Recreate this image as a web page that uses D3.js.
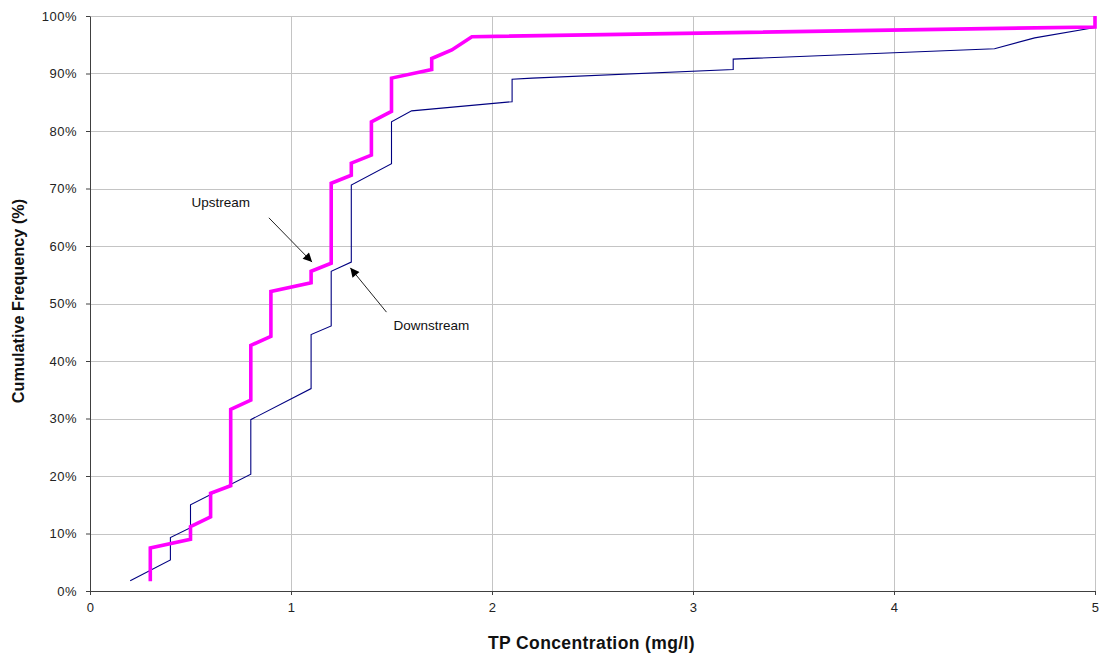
<!DOCTYPE html>
<html>
<head>
<meta charset="utf-8">
<script src="https://cdn.jsdelivr.net/npm/d3@7"></script>
<style>
  html, body { margin: 0; padding: 0; background: #fff; }
  svg { display: block; font-family: "Liberation Sans", Arial, sans-serif; }
</style>
</head>
<body>
<svg id="chart" width="1103" height="656"></svg>
<script>
// Cumulative frequency curves of total phosphorus concentration
const upstreamTP   = [0.3, 0.3, 0.5, 0.5, 0.6, 0.6, 0.7, 0.7, 0.8, 0.8, 0.9, 0.9, 1.1, 1.1, 1.2, 1.2, 1.3, 1.3, 1.4, 1.4, 1.5, 1.5, 1.7, 1.7, 1.8, 1.9, 5.0, 5.0];
const upstreamPct  = [1.7, 7.5, 9.0, 11.2, 12.9, 17.0, 18.3, 31.6, 33.2, 42.7, 44.3, 52.1, 53.6, 55.6, 57.0, 70.9, 72.3, 74.4, 75.8, 81.6, 83.4, 89.2, 90.7, 92.6, 94.1, 96.4, 98.1, 100];
const downstreamTP  = [0.2, 0.4, 0.4, 0.5, 0.5, 0.8, 0.8, 1.1, 1.1, 1.2, 1.2, 1.3, 1.3, 1.5, 1.5, 1.6, 2.1, 2.1, 2.2, 3.2, 3.2, 4.5, 4.7, 5.0];
const downstreamPct = [1.8, 5.4, 9.3, 11.0, 15.0, 20.3, 29.8, 35.2, 44.6, 46.1, 55.6, 57.2, 70.6, 74.3, 81.6, 83.5, 85.1, 89.0, 89.2, 90.7, 92.5, 94.3, 96.2, 98.0];

const xTicks = [0, 1, 2, 3, 4, 5];
const yTicks = [0, 10, 20, 30, 40, 50, 60, 70, 80, 90, 100];

// Callout labels: text, anchor position (data units) and arrow start/tip (data units)
const callouts = [
  { text: "Upstream",   tx: 0.505, ty: 66.8, from: [0.89, 64.9], to: [1.105, 57.2] },
  { text: "Downstream", tx: 1.51,  ty: 45.4, from: [1.475, 48.5], to: [1.295, 56.2] }
];

const svg = d3.select("#chart");
const W = 1103, H = 656;
const margin = { top: 16, right: 8, bottom: 65, left: 90 };
const iw = W - margin.left - margin.right;
const ih = H - margin.top - margin.bottom;

const x = d3.scaleLinear().domain([0, 5]).range([0, iw]);
const y = d3.scaleLinear().domain([0, 100]).range([ih, 0]);

const g = svg.append("g").attr("transform", `translate(${margin.left},${margin.top})`);

// Grid lines
g.append("g").selectAll("line.h").data(yTicks.filter(d => d > 0)).join("line")
  .attr("x1", 0).attr("x2", iw)
  .attr("y1", d => Math.round(y(d)) + 0.5).attr("y2", d => Math.round(y(d)) + 0.5)
  .attr("stroke", "#c4c4c4").attr("stroke-width", 1);
g.append("g").selectAll("line.v").data(xTicks.filter(d => d > 0)).join("line")
  .attr("y1", 0).attr("y2", ih)
  .attr("x1", d => Math.round(x(d)) + 0.5).attr("x2", d => Math.round(x(d)) + 0.5)
  .attr("stroke", "#c4c4c4").attr("stroke-width", 1);

// Axes
const xAxis = d3.axisBottom(x).tickValues(xTicks).tickFormat(d3.format("d")).tickSizeInner(4).tickSizeOuter(0).tickPadding(8);
const yAxis = d3.axisLeft(y).tickValues(yTicks).tickFormat(d => d + "%").tickSizeInner(4).tickSizeOuter(0).tickPadding(9);

const gx = g.append("g").attr("transform", `translate(0,${ih})`).call(xAxis);
const gy = g.append("g").call(yAxis);
[gx, gy].forEach(a => {
  a.select(".domain").attr("stroke", "#404040");
  a.selectAll(".tick line").attr("stroke", "#404040");
  a.selectAll(".tick text").attr("fill", "#222").style("font-size", "13px")
    .style("letter-spacing", "0.5px")
    .style("font-family", "'Liberation Sans', Arial, sans-serif");
});

// Series lines
const line = d3.line().x(d => x(d[0])).y(d => y(d[1]));
const downstream = downstreamTP.map((v, i) => [v, downstreamPct[i]]);
const upstream = upstreamTP.map((v, i) => [v, upstreamPct[i]]);

g.append("path").datum(downstream).attr("d", line)
  .attr("fill", "none").attr("stroke", "#000080").attr("stroke-width", 1.1)
  .attr("stroke-linejoin", "miter");
g.append("path").datum(upstream).attr("d", line)
  .attr("fill", "none").attr("stroke", "#ff00ff").attr("stroke-width", 3.6)
  .attr("stroke-linejoin", "miter");

// Arrowhead marker
svg.append("defs").append("marker")
  .attr("id", "arrowhead").attr("viewBox", "0 0 10 10")
  .attr("refX", 10).attr("refY", 5)
  .attr("markerWidth", 11).attr("markerHeight", 9)
  .attr("markerUnits", "userSpaceOnUse")
  .attr("orient", "auto")
  .append("path").attr("d", "M0,0 L10,5 L0,10 Z").attr("fill", "#000");

// Callouts
callouts.forEach(c => {
  g.append("line")
    .attr("x1", x(c.from[0])).attr("y1", y(c.from[1]))
    .attr("x2", x(c.to[0])).attr("y2", y(c.to[1]))
    .attr("stroke", "#222").attr("stroke-width", 1)
    .attr("marker-end", "url(#arrowhead)");
  g.append("text")
    .attr("x", x(c.tx)).attr("y", y(c.ty))
    .attr("fill", "#111").style("font-size", "13.5px")
    .text(c.text);
});

// Axis titles
svg.append("text")
  .attr("x", margin.left + iw / 2 - 1).attr("y", 649)
  .attr("text-anchor", "middle")
  .style("font-size", "17.5px").style("font-weight", "bold").style("letter-spacing", "0.4px")
  .attr("fill", "#111")
  .text("TP Concentration (mg/l)");
svg.append("text")
  .attr("transform", `translate(24,${margin.top + ih / 2 - 2.5}) rotate(-90)`)
  .attr("text-anchor", "middle")
  .style("font-size", "16.3px").style("font-weight", "bold").attr("fill", "#111")
  .text("Cumulative Frequency (%)");
</script>
</body>
</html>
